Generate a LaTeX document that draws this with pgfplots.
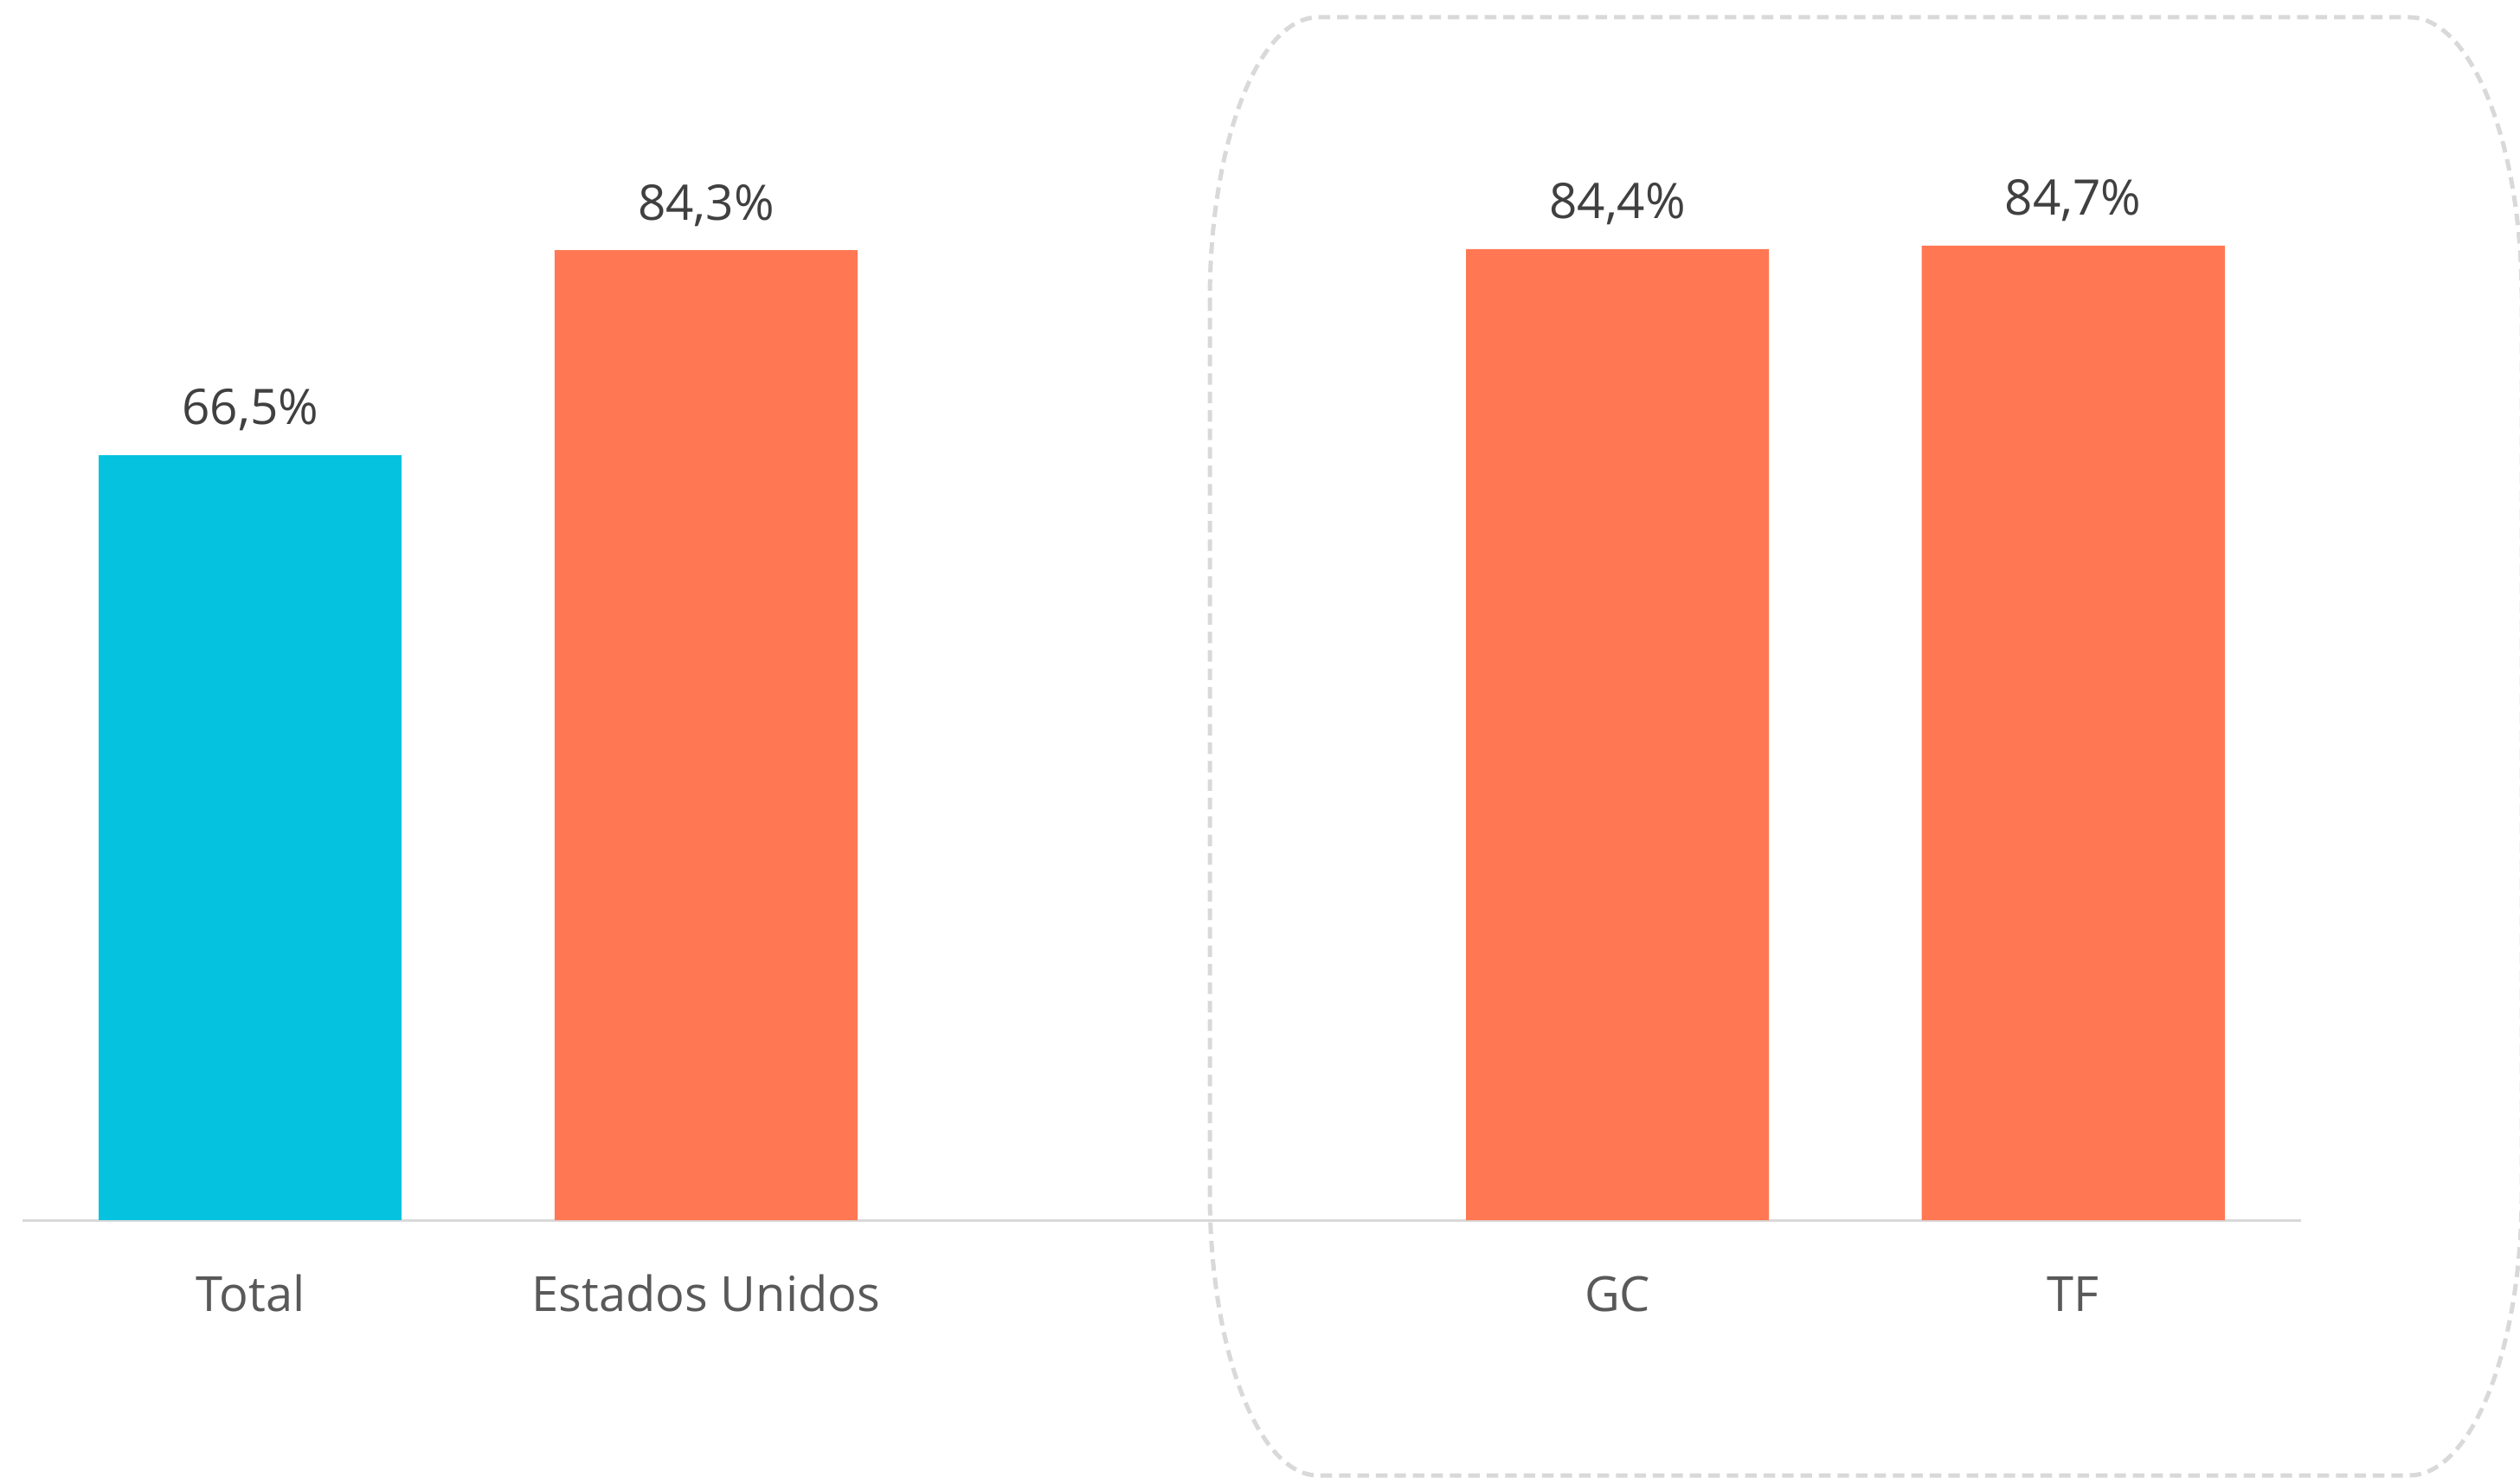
\documentclass[border=0pt]{standalone}
\usepackage{fontspec}
\setmainfont{Open Sans}
\usepackage{pgfplots}
\pgfplotsset{compat=1.18}
\definecolor{cyanbar}{HTML}{05C3DE}
\definecolor{orangebar}{HTML}{FF7853}
\definecolor{labelgray}{HTML}{404040}
\definecolor{tickgray}{HTML}{595959}
\definecolor{linegray}{HTML}{D9D9D9}
\begin{document}
\begin{tikzpicture}
\useasboundingbox (0,0) rectangle (873.6pt,512.1pt);
\begin{scope}[x=0.3pt,y=0.3pt]
\draw[linegray, line width=1.5pt, dash pattern=on 4pt off 2.4pt]
  (1398,1361) -- (1398,328)
  arc[start angle=180, end angle=270, x radius=125, y radius=326]
  -- (2784,2)
  arc[start angle=270, end angle=360, x radius=130, y radius=326]
  -- (2914,1361)
  arc[start angle=0, end angle=90, x radius=130, y radius=326]
  -- (1523,1687)
  arc[start angle=90, end angle=180, x radius=125, y radius=326]
  -- cycle;
\end{scope}
\begin{axis}[
  at={(7.8pt,89.1pt)}, anchor=south west,
  scale only axis, width=789.9pt, height=398.9pt,
  xmin=-0.5, xmax=4.5, ymin=0, ymax=100,
  axis y line=none, axis x line=bottom,
  x axis line style={draw=linegray, line width=0.9pt, -},
  xtick={0,1,3,4}, xticklabels={Total, Estados Unidos, GC, TF},
  major tick length=0pt,
  /pgf/number format/assume math mode=true,
  xticklabel style={font=\fontsize{16.8}{20}\selectfont, text=tickgray, anchor=base, inner sep=0pt, yshift=-31.5pt},
  ybar, bar width=0.665, bar shift=0pt,
  nodes near coords={\pgfmathprintnumber[fixed,fixed zerofill,precision=1,use comma,assume math mode=true]{\pgfplotspointmeta}\%},
  every node near coord/.append style={font=\fontsize{17}{20}\selectfont, text=labelgray, anchor=base, inner sep=0pt, yshift=10.5pt},
  clip=false,
]
\addplot[fill=cyanbar, draw=none] coordinates {(0,66.5)};
\addplot[fill=orangebar, draw=none] coordinates {(1,84.3) (3,84.4) (4,84.7)};
\end{axis}
\end{tikzpicture}
\end{document}
